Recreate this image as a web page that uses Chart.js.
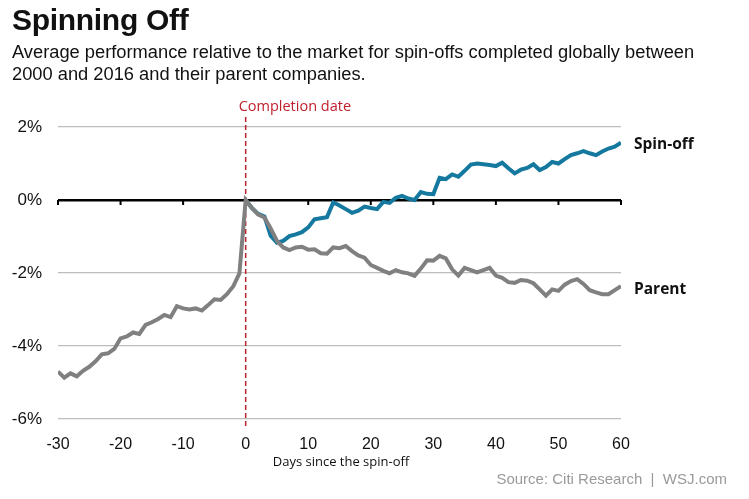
<!DOCTYPE html>
<html>
<head>
<meta charset="utf-8">
<script src="https://cdn.jsdelivr.net/npm/chart.js@4.4.0/dist/chart.umd.min.js"></script>
<style>
  body { margin: 0; background: #fff; }
  #wrap { position: relative; width: 749px; height: 499px; overflow: hidden; font-family: "Liberation Sans", Arial, sans-serif; }
  #chart { position: absolute; left: 0; top: 0; }
  .title { position: absolute; left: 12px; top: 3px; font-size: 30px; font-weight: bold; color: #111; letter-spacing: -0.3px; }
  .sub { position: absolute; left: 12px; top: 41px; font-size: 18.3px; line-height: 22px; color: #111; }
  .source { position: absolute; right: 22px; top: 470px; font-size: 15px; color: #9a9a9a; }
</style>
</head>
<body>
<div id="wrap">
  <canvas id="chart" width="749" height="499"></canvas>
  <div class="title">Spinning Off</div>
  <div class="sub">Average performance relative to the market for spin-offs completed globally between<br>2000 and 2016 and their parent companies.</div>
  <div class="source">Source: Citi Research &nbsp;|&nbsp; WSJ.com</div>
</div>
<script>
// days -30 .. 60 (parent), 0 .. 60 (spin-off)
var parentValues = [
  -4.70, -4.87, -4.75, -4.83, -4.68, -4.57, -4.42, -4.23, -4.20, -4.08,
  -3.79, -3.74, -3.63, -3.67, -3.42, -3.35, -3.26, -3.15, -3.21, -2.91,
  -2.97, -3.00, -2.97, -3.03, -2.88, -2.72, -2.74, -2.58, -2.37, -2.01,
  0.00, -0.22, -0.40, -0.48, -0.78, -1.12, -1.30, -1.37, -1.30, -1.28,
  -1.36, -1.35, -1.46, -1.47, -1.30, -1.32, -1.26, -1.40, -1.52, -1.58,
  -1.78, -1.86, -1.94, -2.01, -1.92, -1.98, -2.01, -2.08, -1.88, -1.65,
  -1.66, -1.53, -1.60, -1.90, -2.07, -1.86, -1.92, -1.98, -1.92, -1.86,
  -2.07, -2.13, -2.25, -2.27, -2.19, -2.21, -2.28, -2.45, -2.62, -2.45,
  -2.49, -2.32, -2.22, -2.17, -2.30, -2.47, -2.53, -2.58, -2.58, -2.47,
  -2.36
];
var spinValues = [
  0.00, -0.22, -0.38, -0.45, -0.98, -1.17, -1.12, -0.99, -0.94, -0.88,
  -0.75, -0.53, -0.50, -0.47, -0.07, -0.15, -0.25, -0.35, -0.29, -0.18,
  -0.22, -0.25, -0.05, -0.08, 0.06, 0.11, 0.04, 0.00, 0.22, 0.17,
  0.16, 0.61, 0.57, 0.70, 0.64, 0.80, 0.97, 1.00, 0.98, 0.96,
  0.93, 1.02, 0.87, 0.73, 0.83, 0.88, 0.98, 0.82, 0.90, 1.04,
  1.00, 1.12, 1.23, 1.28, 1.34, 1.28, 1.23, 1.33, 1.41, 1.46,
  1.57
];
var parentStart = -30;
var spinStart = 0;
var yTicks = [-6, -4, -2, 0, 2];
var xTickLabels = [-30, -20, -10, 0, 10, 20, 30, 40, 50, 60];

var blue = '#14789f';
var gray = '#808080';
var red = '#c0202c';

function toPoints(vals, start) {
  return vals.map(function (v, i) { return { x: start + i, y: v }; });
}

var extras = {
  id: 'extras',
  beforeDatasetsDraw: function (chart) {
    var c = chart.ctx, xs = chart.scales.x, ys = chart.scales.y;
    var y0 = ys.getPixelForValue(0);
    c.save();
    // tick marks on the zero line
    c.strokeStyle = '#000';
    c.lineWidth = 2;
    xTickLabels.forEach(function (t) {
      var px = xs.getPixelForValue(t);
      c.beginPath();
      c.moveTo(px, y0);
      c.lineTo(px, y0 + 5);
      c.stroke();
    });
    // completion date marker
    var x0 = xs.getPixelForValue(0);
    c.strokeStyle = red;
    c.lineWidth = 1.5;
    c.setLineDash([5, 3]);
    c.beginPath();
    c.moveTo(x0, 117);
    c.lineTo(x0, 428);
    c.stroke();
    c.setLineDash([]);
    c.fillStyle = red;
    c.font = '14.5px "Open Sans"';
    c.textAlign = 'left';
    c.textBaseline = 'middle';
    c.fillText('Completion date', x0 - 7, 107);
    c.restore();
  },
  afterDatasetsDraw: function (chart) {
    var c = chart.ctx, ys = chart.scales.y;
    c.save();
    c.fillStyle = '#111';
    c.font = 'bold 15.5px "Open Sans"';
    c.textAlign = 'left';
    c.textBaseline = 'middle';
    c.fillText('Spin-off', 634, ys.getPixelForValue(spinValues[spinValues.length - 1]) + 2);
    c.fillText('Parent', 634, ys.getPixelForValue(parentValues[parentValues.length - 1]) + 3);
    c.restore();
  }
};

new Chart(document.getElementById('chart'), {
  type: 'line',
  data: {
    datasets: [
      {
        label: 'Parent',
        data: toPoints(parentValues, parentStart),
        borderColor: gray,
        borderWidth: 4,
        pointRadius: 0,
        tension: 0
      },
      {
        label: 'Spin-off',
        data: toPoints(spinValues, spinStart),
        borderColor: blue,
        borderWidth: 4,
        pointRadius: 0,
        tension: 0
      }
    ]
  },
  options: {
    responsive: false,
    animation: false,
    layout: { padding: { left: 0, right: 128, top: 127, bottom: 50 } },
    plugins: { legend: { display: false }, tooltip: { enabled: false } },
    scales: {
      x: {
        type: 'linear',
        min: -30, max: 60,
        border: { display: false },
        grid: { display: false },
        afterFit: function (s) { s.height = 30; },
        afterBuildTicks: function (s) { s.ticks = xTickLabels.map(function (v) { return { value: v }; }); },
        ticks: { color: '#111', font: { size: 16, family: '"Liberation Sans", Arial' }, padding: 8, maxRotation: 0 }
      },
      y: {
        min: -6, max: 2,
        border: { display: false },
        afterFit: function (s) { s.width = 58; },
        afterBuildTicks: function (s) { s.ticks = yTicks.map(function (v) { return { value: v }; }); },
        grid: {
          drawTicks: false,
          color: function (ctx) { return ctx.tick && ctx.tick.value === 0 ? '#000' : '#bdbdbd'; },
          lineWidth: function (ctx) { return ctx.tick && ctx.tick.value === 0 ? 2.5 : 1.2; }
        },
        ticks: {
          color: '#111',
          padding: 16,
          font: { size: 17, family: '"Liberation Sans", Arial' },
          callback: function (v) { return v + '%'; }
        }
      }
    }
  },
  plugins: [extras]
});

// axis title
(function () {
  var d = document.createElement('div');
  d.textContent = 'Days since the spin-off';
  d.style.cssText = 'position:absolute;left:341px;top:452px;transform:translateX(-50%);font:13px "Open Sans";color:#111;white-space:nowrap;';
  document.getElementById('wrap').appendChild(d);
})();
</script>
</body>
</html>
